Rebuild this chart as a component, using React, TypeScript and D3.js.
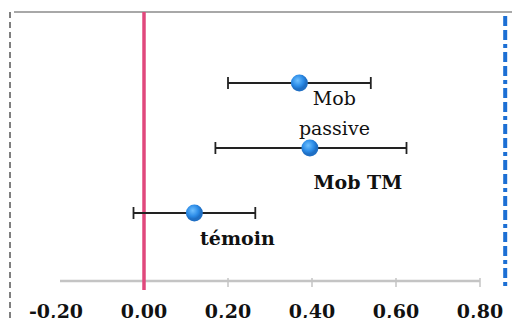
import React, { useEffect, useRef } from "react";
import { select, scaleLinear, scalePoint, range } from "d3";

// données
const groups = ["Mob passive", "Mob TM", "témoin"];
const labelLines = [["Mob", "passive"], ["Mob TM"], ["témoin"]];
const labelBold = [false, true, true];
const means = [0.37, 0.395, 0.12];
const lows = [0.2, 0.17, -0.025];
const highs = [0.54, 0.625, 0.265];
const ticks = [-0.2, 0, 0.2, 0.4, 0.6, 0.8];
const refLine = 0.86;

// décalage des étiquettes par rapport au point (px)
const labelDx = [35, 48, 43];
const labelDy = [22, 41, 32];

const W = 520;
const H = 326;

export default function App() {
  const svgRef = useRef<SVGSVGElement>(null);

  useEffect(() => {
    const svg = select(svgRef.current);
    svg.selectAll("*").remove();

    const x = scaleLinear().domain([-0.2, 0.8]).range([60, 480]);
    const y = scalePoint().domain(groups).range([83, 213]);

    const defs = svg.append("defs");
    const grad = defs.append("radialGradient").attr("id", "dot").attr("cx", "40%").attr("cy", "35%");
    grad.append("stop").attr("offset", "0%").attr("stop-color", "#6fc0ff");
    grad.append("stop").attr("offset", "70%").attr("stop-color", "#2a8ae6");
    grad.append("stop").attr("offset", "100%").attr("stop-color", "#1f6fc4");

    svg.append("rect").attr("width", W).attr("height", H).attr("fill", "#fff");

    // cadre scanné
    svg.append("line")
      .attr("x1", 14).attr("x2", W).attr("y1", 12).attr("y2", 12)
      .attr("stroke", "#a8a8a8").attr("stroke-width", 2);
    svg.append("line")
      .attr("x1", 10).attr("x2", 10).attr("y1", 12).attr("y2", H)
      .attr("stroke", "#555").attr("stroke-width", 1.5)
      .attr("stroke-dasharray", "6,4");

    // axe
    svg.append("line")
      .attr("x1", x(-0.2)).attr("x2", x(0.8)).attr("y1", 281).attr("y2", 281)
      .attr("stroke", "#c4c4c4").attr("stroke-width", 2.5);
    svg.selectAll(".tk").data(ticks.slice(1)).join("line")
      .attr("class", "tk")
      .attr("x1", (d) => x(d)).attr("x2", (d) => x(d))
      .attr("y1", 278).attr("y2", 287)
      .attr("stroke", "#c4c4c4").attr("stroke-width", 1.5);
    svg.selectAll(".tl").data(ticks).join("text")
      .attr("class", "tl")
      .attr("x", (d) => x(d) - (d < 0 ? 4 : 0))
      .attr("y", 318)
      .attr("text-anchor", "middle")
      .attr("font-family", "DejaVu Serif")
      .attr("font-weight", "bold")
      .attr("font-size", 19)
      .attr("fill", "#111")
      .text((d) => d.toFixed(2).replace(".", ","));

    // ligne zéro
    svg.append("line")
      .attr("x1", x(0)).attr("x2", x(0)).attr("y1", 12).attr("y2", 290)
      .attr("stroke", "#e0487c").attr("stroke-width", 3.5);

    // ligne de référence bleue
    svg.append("line")
      .attr("x1", x(refLine)).attr("x2", x(refLine)).attr("y1", 16).attr("y2", 286)
      .attr("stroke", "#1c6fd4").attr("stroke-width", 4)
      .attr("stroke-dasharray", "10,4,10,4,4,4");

    // barres d'erreur
    const idx = range(groups.length);
    const g = svg.append("g");
    g.selectAll(".eb").data(idx).join("line")
      .attr("x1", (i) => x(lows[i])).attr("x2", (i) => x(highs[i]))
      .attr("y1", (i) => y(groups[i])!).attr("y2", (i) => y(groups[i])!)
      .attr("stroke", "#222").attr("stroke-width", 1.8);
    idx.forEach((i) => {
      [lows[i], highs[i]].forEach((v) => {
        g.append("line")
          .attr("x1", x(v)).attr("x2", x(v))
          .attr("y1", y(groups[i])! - 6).attr("y2", y(groups[i])! + 6)
          .attr("stroke", "#222").attr("stroke-width", 1.8);
      });
    });
    g.selectAll(".dot").data(idx).join("circle")
      .attr("cx", (i) => x(means[i])).attr("cy", (i) => y(groups[i])!)
      .attr("r", 8.5)
      .attr("fill", "url(#dot)");

    // étiquettes
    idx.forEach((i) => {
      labelLines[i].forEach((line, k) => {
        g.append("text")
          .attr("x", x(means[i]) + labelDx[i])
          .attr("y", y(groups[i])! + labelDy[i] + k * 30)
          .attr("text-anchor", "middle")
          .attr("font-family", "DejaVu Serif")
          .attr("font-weight", labelBold[i] ? "bold" : "normal")
          .attr("font-size", 19)
          .attr("fill", "#111")
          .text(line);
      });
    });
  }, []);

  return (
    <div style={{ margin: -8, width: W, height: H }}>
      <svg ref={svgRef} width={W} height={H} style={{ display: "block" }} />
    </div>
  );
}
